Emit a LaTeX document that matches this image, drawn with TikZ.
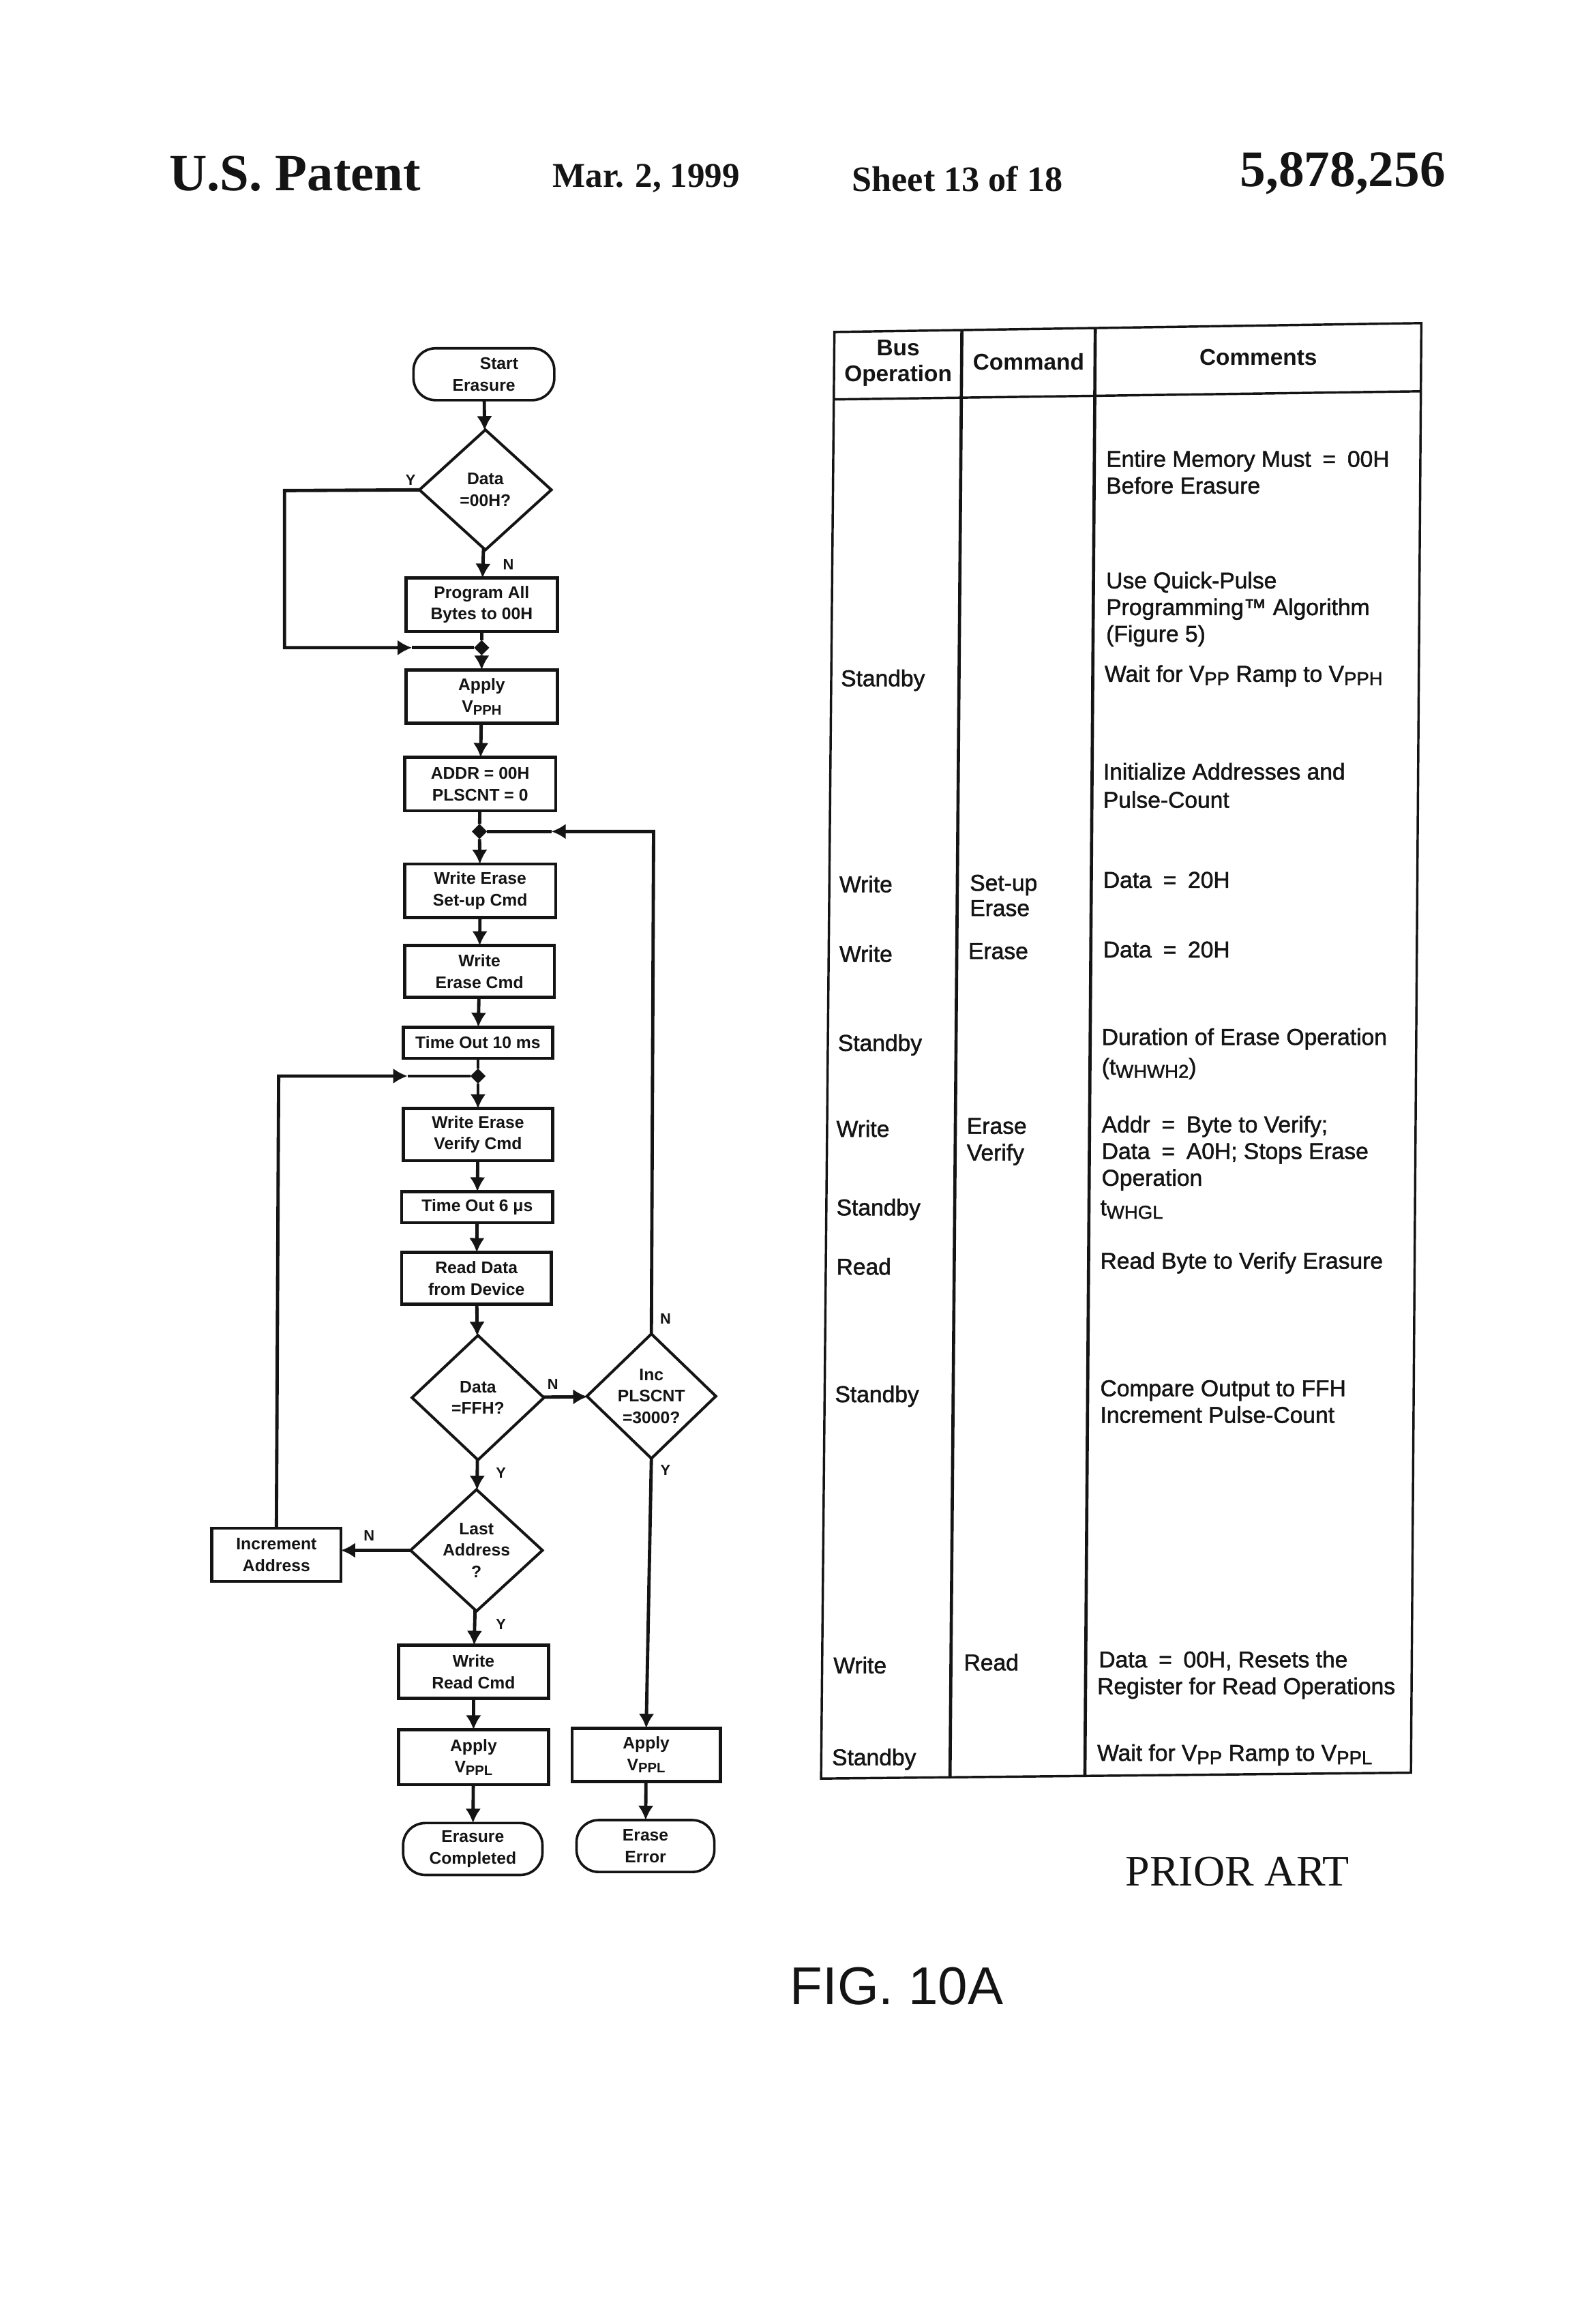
\documentclass[tikz,border=0pt]{standalone}
\usepackage{fontspec}
\setmainfont{Liberation Sans}
\newfontfamily\serifbf{Liberation Serif}
\newfontfamily\tblfont[FakeBold=1.5]{Liberation Sans}
\usetikzlibrary{arrows.meta,shapes.geometric}
\def\U{0.537pt}
\newcount\tcnt
\newcommand\subtxt[1]{\raisebox{-0.28ex}{\scalebox{.82}{#1}}}
\newcommand\tl[3]{\global\advance\tcnt by 1 \node[tt] (t\the\tcnt) at (#1,#2) {#3};}
\newcommand\lb[3]{\global\advance\tcnt by 1 \node[lab] (t\the\tcnt) at (#1,#2) {#3};}
\tikzset{
  flow/.style={line width=1.2pt,draw=ink},
  tip/.style={-{Latex[length=5.2pt,width=5.6pt]}},
  fbox/.style={draw=ink,line width=1.15pt,rectangle,align=center,inner sep=0pt,outer sep=0pt,
     font=\bfseries\fontsize{6.1}{7.8}\selectfont,text=ink},
  term/.style={fbox,rounded corners=8pt,line width=.9pt},
  dia/.style={draw=ink,line width=1pt,diamond,aspect=1.05,align=center,inner sep=0pt,outer sep=0pt,
     font=\bfseries\fontsize{6.1}{7.8}\selectfont,text=ink},
  jn/.style={diamond,fill=ink,inner sep=0pt,minimum size=5.5pt,outer sep=0pt},
  lab/.style={font=\bfseries\fontsize{5.4}{6}\selectfont,text=ink,inner sep=0pt},
  tt/.style={anchor=base west,inner sep=0pt,text=ink,font=\tblfont\fontsize{8.3}{10}\selectfont},
  hd/.style={inner sep=0pt,text=ink,font=\bfseries\fontsize{8.25}{9.6}\selectfont,align=center},
  rule/.style={line width=.85pt,draw=ink},
  rulethick/.style={line width=1.15pt,draw=ink},
}
\definecolor{ink}{gray}{0.08}
\begin{document}
\begin{tikzpicture}[x=0.537pt,y=-0.537pt]
\useasboundingbox[fill=white] (0,0) rectangle (1067.4,1568);
% page header
\node[inner sep=0pt,text=ink,font=\serifbf\bfseries\fontsize{18.95}{20}\selectfont] (hA) at (199,117) {U.S. Patent};
\node[inner sep=0pt,text=ink,font=\serifbf\bfseries\fontsize{12.6}{14}\selectfont] (hB) at (436,120.5) {Mar. 2, 1999};
\node[inner sep=0pt,text=ink,font=\serifbf\bfseries\fontsize{12.9}{14}\selectfont] (hC) at (646,120.5) {Sheet 13 of 18};
\node[inner sep=0pt,text=ink,font=\serifbf\bfseries\fontsize{18.6}{20}\selectfont] (hD) at (906,117) {5,878,256};
\node[inner sep=0pt,text=ink,font=\serifbf\fontsize{15.8}{18}\selectfont] (pa) at (835,1263) {PRIOR ART};
\node[inner sep=0pt,text=ink,font=\fontsize{19.3}{20}\selectfont] (fig) at (605,1340) {FIG. 10A};

% flowchart nodes
\node[term,minimum width=95*\U,minimum height=35*\U] (start) at (326.5,252.5) {\hspace*{11pt}Start\\Erasure};
\node[dia,minimum width=89*\U,minimum height=81*\U] (d1) at (327.5,330.5) {Data\\=00H?};
\node[fbox,minimum width=102*\U,minimum height=36*\U] (prog) at (325,408) {Program All\\Bytes to 00H};
\node[jn] (j1) at (325,437) {};
\node[fbox,minimum width=102*\U,minimum height=36*\U] (vpph) at (325,470) {Apply\\V\subtxt{PPH}};
\node[fbox,minimum width=102*\U,minimum height=36*\U] (addr) at (324,529) {ADDR = 00H\\PLSCNT = 0};
\node[jn] (j2) at (323.5,561) {};
\node[fbox,minimum width=102*\U,minimum height=36*\U] (setup) at (324,601) {Write Erase\\Set-up Cmd};
\node[fbox,minimum width=101*\U,minimum height=35*\U] (ecmd) at (323.5,655.5) {Write\\Erase Cmd};
\node[fbox,minimum width=101*\U,minimum height=21*\U] (t10) at (322.5,703.5) {Time Out 10 ms};
\node[jn] (j3) at (322.5,726) {};
\node[fbox,minimum width=101*\U,minimum height=35*\U] (vcmd) at (322.5,765.5) {Write Erase\\Verify Cmd};
\node[fbox,minimum width=102*\U,minimum height=21*\U] (t6) at (322,814.5) {Time Out 6 μs};
\node[fbox,minimum width=101*\U,minimum height=35*\U] (read) at (321.5,862.5) {Read Data\\from Device};
\node[dia,minimum width=89*\U,minimum height=84*\U] (d2) at (322.5,943) {Data\\=FFH?};
\node[dia,minimum width=87*\U,minimum height=84*\U] (d3) at (439.5,942) {Inc\\PLSCNT\\=3000?};
\node[dia,minimum width=89*\U,minimum height=82*\U] (d4) at (321.5,1046) {Last\\Address\\?};
\node[fbox,minimum width=87*\U,minimum height=36*\U] (inc) at (186.5,1049) {Increment\\Address};
\node[fbox,minimum width=101*\U,minimum height=36*\U] (wr) at (319.5,1128) {Write\\Read Cmd};
\node[fbox,minimum width=101*\U,minimum height=37*\U] (vppl) at (319.5,1185.5) {Apply\\V\subtxt{PPL}};
\node[fbox,minimum width=100*\U,minimum height=36*\U] (vpplb) at (436,1184) {Apply\\V\subtxt{PPL}};
\node[term,minimum width=94*\U,minimum height=35*\U] (done) at (319,1247.5) {Erasure\\Completed};
\node[term,minimum width=93*\U,minimum height=35*\U] (err) at (435.5,1245.5) {Erase\\Error};

% free corners of the loops
\coordinate (c1) at (192,331);
\coordinate (c2) at (192,437);
\coordinate (m1) at (278,437);
\coordinate (c3) at (441,561);
\coordinate (m2) at (372,561);
\coordinate (c4) at (188,726);
\coordinate (m3) at (275,726);

% connectors
\draw[flow,tip] (start) -- (d1);
\draw[flow,tip] (d1) -- (prog);
\draw[flow] (prog) -- (j1);
\draw[flow,tip] (j1) -- (vpph);
\draw[flow,tip] (vpph) -- (addr);
\draw[flow] (addr) -- (j2);
\draw[flow,tip] (j2) -- (setup);
\draw[flow,tip] (setup) -- (ecmd);
\draw[flow,tip] (ecmd) -- (t10);
\draw[flow] (t10) -- (j3);
\draw[flow,tip] (j3) -- (vcmd);
\draw[flow,tip] (vcmd) -- (t6);
\draw[flow,tip] (t6) -- (read);
\draw[flow,tip] (read) -- (d2);
\draw[flow,tip] (d2) -- (d4);
\draw[flow,tip] (d2) -- (d3);
\draw[flow,tip] (d4.west) -- (d4.west -| inc.east);
\draw[flow,tip] (d4) -- (wr);
\draw[flow,tip] (wr) -- (vppl);
\draw[flow,tip] (vppl) -- (done);
\draw[flow,tip] (d3.south) -- (vpplb.north);
\draw[flow,tip] (vpplb) -- (err);
\draw[flow,tip] (d1.west) -- (c1) -- (c2) -- (m1);
\draw[flow] (m1) -- (j1);
\draw[flow,tip] (d3.north) -- (c3) -- (m2);
\draw[flow] (m2) -- (j2);
\draw[flow,tip] (inc.north) -- (c4) -- (m3);
\draw[flow] (m3) -- (j3);

% decision labels
\lb{277}{324}{Y}\lb{343}{381}{N}\lb{449}{890}{N}\lb{373}{934}{N}
\lb{338}{994}{Y}\lb{449}{992}{Y}\lb{249}{1036}{N}\lb{338}{1096}{Y}

% table frame
\coordinate (tl) at (563,224);
\coordinate (tr) at (959,218);
\coordinate (br) at (952,1196);
\coordinate (bl) at (554,1200);
\draw[rule] (tl) -- (tr) -- (br) -- (bl) -- cycle;
\draw[rule] (563,269.5) -- (959,264);
\draw[rulethick] (649,223) -- (641,1199);
\draw[rulethick] (739,222) -- (732,1198);

% table header
\node[hd] (h1) at (606,245) {Bus\\Operation};
\node[hd] (h2) at (694,244) {Command};
\node[hd] (h3) at (849,241) {Comments};

% bus operation column
\tl{567}{463}{Standby}
\tl{566}{602}{Write}
\tl{566}{649}{Write}
\tl{565}{709}{Standby}
\tl{564}{767}{Write}
\tl{564}{820}{Standby}
\tl{564}{860}{Read}
\tl{563}{946}{Standby}
\tl{562}{1129}{Write}
\tl{561}{1191}{Standby}
% command column
\tl{654}{601}{Set-up}
\tl{654}{618}{Erase}
\tl{653}{647}{Erase}
\tl{652}{765}{Erase}
\tl{652}{783}{Verify}
\tl{650}{1127}{Read}
% comments column
\tl{746}{315}{Entire Memory Must\enspace=\enspace00H}
\tl{746}{333}{Before Erasure}
\tl{746}{397}{Use Quick-Pulse}
\tl{746}{415}{Programming™ Algorithm}
\tl{746}{433}{(Figure 5)}
\tl{745}{460}{Wait for V\subtxt{PP} Ramp to V\subtxt{PPH}}
\tl{744}{526}{Initialize Addresses and}
\tl{744}{545}{Pulse-Count}
\tl{744}{599}{Data\enspace=\enspace20H}
\tl{744}{646}{Data\enspace=\enspace20H}
\tl{743}{705}{Duration of Erase Operation}
\tl{743}{725}{(t\subtxt{WHWH2})}
\tl{743}{764}{Addr\enspace=\enspace Byte to Verify;}
\tl{743}{782}{Data\enspace=\enspace A0H; Stops Erase}
\tl{743}{800}{Operation}
\tl{742}{820}{t\subtxt{WHGL}}
\tl{742}{856}{Read Byte to Verify Erasure}
\tl{742}{942}{Compare Output to FFH}
\tl{742}{960}{Increment Pulse-Count}
\tl{741}{1125}{Data\enspace=\enspace00H, Resets the}
\tl{740}{1143}{Register for Read Operations}
\tl{740}{1188}{Wait for V\subtxt{PP} Ramp to V\subtxt{PPL}}
\end{tikzpicture}
\end{document}
